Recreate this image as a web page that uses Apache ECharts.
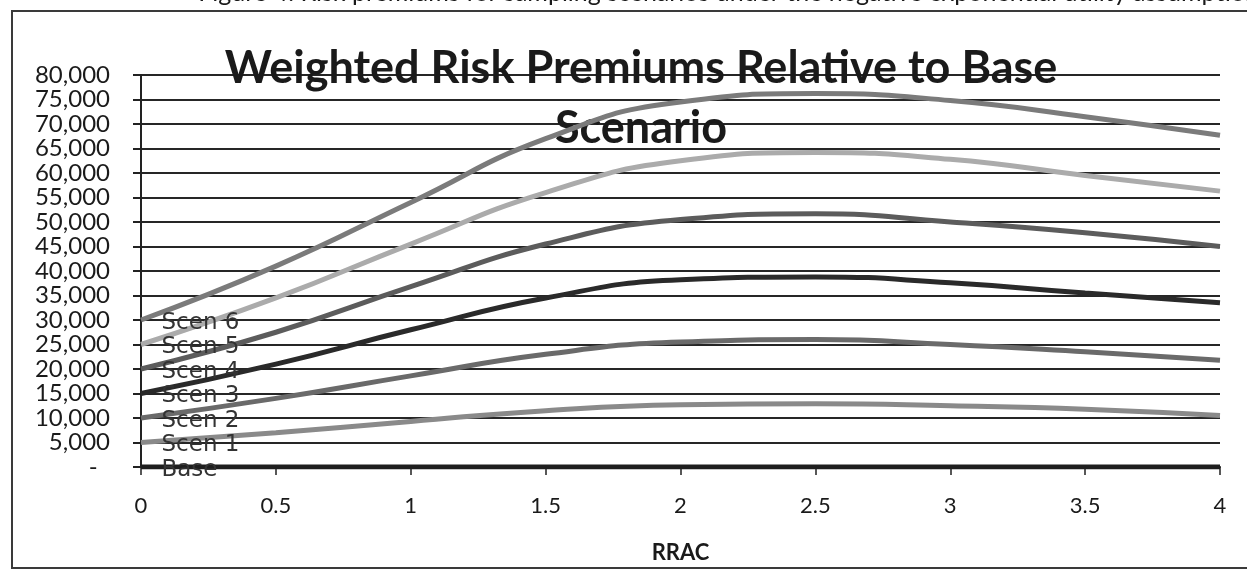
<!DOCTYPE html>
<html>
<head>
<meta charset="utf-8">
<script src="https://cdn.jsdelivr.net/npm/echarts@6/dist/echarts.min.js"></script>
<style>
html,body{margin:0;padding:0;background:#fff;}
#chart{width:1247px;height:571px;}
</style>
</head>
<body>
<div id="chart"></div>
<script>
const rrac = [0, 0.5, 1, 1.5, 2, 2.5, 3, 3.5, 4];
const seriesNames = ['Base', 'Scen 1', 'Scen 2', 'Scen 3', 'Scen 4', 'Scen 5', 'Scen 6'];
const base  = [0, 0, 0, 0, 0, 0, 0, 0, 0];
const scen1 = [5000, 7000, 9300, 11500, 12700, 12900, 12500, 11800, 10500];
const scen2 = [10000, 14000, 18600, 23000, 25500, 26000, 25000, 23500, 21800];
const scen3 = [15000, 21000, 28000, 34500, 38200, 38800, 37600, 35500, 33500];
const scen4 = [20000, 27500, 36800, 45500, 50500, 51700, 50000, 47800, 45000];
const scen5 = [25000, 34500, 45500, 56000, 62500, 64200, 62800, 59500, 56300];
const scen6 = [30000, 41000, 54000, 67000, 74500, 76200, 74800, 71500, 67700];
const allValues = [base, scen1, scen2, scen3, scen4, scen5, scen6];
const lineColors = ['#1e1e1e', '#8a8a8a', '#6a6a6a', '#2a2a2a', '#5c5c5c', '#ababab', '#7b7b7b'];

const titleText = 'Weighted Risk Premiums Relative to Base\nScenario';
const captionText = 'Figure 4: Risk premiums for sampling scenarios under the negative exponential utility assumption';
const xAxisName = 'RRAC';

const chart = echarts.init(document.getElementById('chart'));

const series = allValues.map((vals, i) => ({
  name: seriesNames[i],
  type: 'line',
  smooth: 0.5,
  symbol: 'circle',
  symbolSize: 1,
  showSymbol: true,
  z: 3 + i,
  lineStyle: { width: 5, color: lineColors[i] },
  itemStyle: { color: 'rgba(0,0,0,0)', borderWidth: 0 },
  label: {
    show: true,
    position: 'right',
    distance: 20,
    offset: [0, 3],
    formatter: p => p.dataIndex === 0 ? seriesNames[i] : '',
    fontFamily: 'DejaVu Sans',
    fontSize: 23,
    color: '#333'
  },
  data: vals.map((v, j) => [rrac[j], v])
}));

chart.setOption({
  animation: false,
  backgroundColor: '#ffffff',
  title: {
    text: titleText,
    left: 636,
    top: 33,
    textAlign: 'center',
    textStyle: {
      fontFamily: 'Lato',
      fontWeight: 'bold',
      fontSize: 45,
      lineHeight: 60,
      color: '#1a1a1a'
    }
  },
  grid: { left: 141, right: 27, top: 75, bottom: 104, containLabel: false, outerBoundsMode: 'none' },
  xAxis: {
    type: 'value',
    min: 0,
    max: 4,
    interval: 0.5,
    name: xAxisName,
    nameLocation: 'middle',
    nameGap: 75,
    nameTextStyle: { fontFamily: 'Lato', fontWeight: 'bold', fontSize: 22, color: '#1a1a1a' },
    axisLine: { show: true, lineStyle: { color: '#222', width: 2 } },
    axisTick: { show: true, length: 8, lineStyle: { color: '#222', width: 1.5 } },
    axisLabel: { fontFamily: 'Lato', fontSize: 22, color: '#1a1a1a', margin: 28 },
    splitLine: { show: false }
  },
  yAxis: {
    type: 'value',
    min: 0,
    max: 80000,
    interval: 5000,
    axisLine: { show: true, lineStyle: { color: '#222', width: 2 } },
    axisTick: { show: true, length: 8, lineStyle: { color: '#222', width: 2 } },
    axisLabel: {
      fontFamily: 'Lato',
      fontSize: 24,
      color: '#1a1a1a',
      margin: 31,
      formatter: v => v === 0 ? '-  ' : v.toLocaleString('en-US')
    },
    splitLine: { show: true, lineStyle: { color: '#262626', width: 2 } }
  },
  graphic: [
    {
      type: 'text',
      right: -12,
      top: -20,
      silent: true,
      style: {
        text: captionText,
        fontFamily: 'Lato',
        fontSize: 25,
        fill: '#1a1a1a'
      }
    },
    {
      type: 'rect',
      silent: true,
      shape: { x: 12, y: 11, width: 1250, height: 557 },
      style: { fill: 'none', stroke: '#3a3a3a', lineWidth: 2 }
    }
  ],
  series: series
});
</script>
</body>
</html>
